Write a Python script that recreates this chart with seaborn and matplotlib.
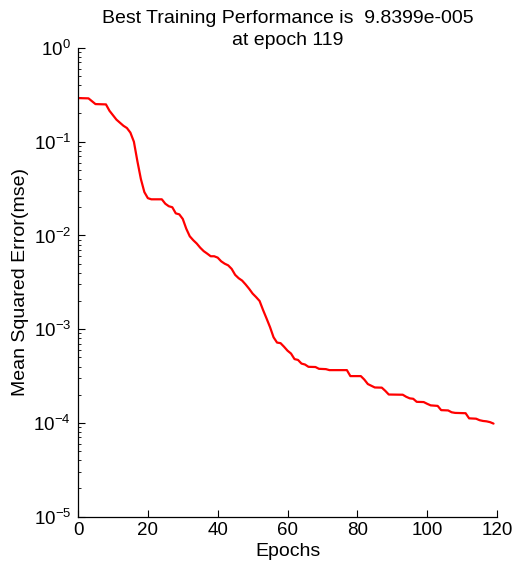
import matplotlib
matplotlib.use("Agg")
import matplotlib.pyplot as plt
import matplotlib.ticker as mticker
import numpy as np
import pandas as pd
import seaborn as sns

# Training record: epoch and mean squared error at each recorded step
epochs = [0, 3, 5, 8, 9, 11, 13, 14, 15, 16, 17, 18, 19, 20, 21, 24, 25, 26, 27,
          28, 29, 30, 31, 32, 33, 34, 35, 36, 37, 38, 39, 40, 41, 42, 43, 44, 45,
          46, 47, 48, 49, 50, 51, 52, 53, 54, 55, 56, 57, 58, 59, 60, 61, 62, 63,
          64, 65, 66, 68, 69, 71, 72, 77, 78, 81, 82, 83, 85, 87, 88, 89, 93, 94,
          95, 96, 97, 99, 100, 101, 103, 104, 106, 107, 108, 111, 112, 114, 115,
          116, 117, 118, 119]
mse = [0.292, 0.290, 0.252, 0.250, 0.214, 0.172, 0.148, 0.140, 0.125, 0.100,
       0.062, 0.040, 0.029, 0.0250, 0.0243, 0.0243, 0.0218, 0.0205, 0.0200,
       0.0172, 0.0168, 0.0150, 0.0118, 0.0098, 0.0089, 0.0082, 0.0074, 0.0068,
       0.0064, 0.0060, 0.0060, 0.0058, 0.0053, 0.0050, 0.0048, 0.0044, 0.0038,
       0.0035, 0.0033, 0.0030, 0.0027, 0.0024, 0.0022, 0.0020, 0.0016, 0.0013,
       0.00105, 0.00082, 0.00072, 0.00071, 0.00065, 0.00059, 0.00055, 0.00048,
       0.00047, 0.00043, 0.00042, 0.000397, 0.000395, 0.000378, 0.000375,
       0.000366, 0.000366, 0.000316, 0.000316, 0.00029, 0.00026, 0.000239,
       0.000238, 0.00022, 0.000201, 0.000200, 0.00019, 0.000183, 0.000181,
       0.000168, 0.000167, 0.00016, 0.000154, 0.000152, 0.000137, 0.000136,
       0.00013, 0.000128, 0.000127, 0.000112, 0.000111, 0.000107, 0.000105,
       0.000104, 0.000102, 9.8399e-5]

x_ticks = [0, 20, 40, 60, 80, 100, 120]
y_ticks = [1e-5, 1e-4, 1e-3, 1e-2, 1e-1, 1e0]

best_epoch = 119
best_perf = "9.8399e-005"
title_text = f"Best Training Performance is  {best_perf}\nat epoch {best_epoch}"

sns.set_style("white")
plt.rcParams["font.family"] = ["Liberation Sans", "DejaVu Sans"]
plt.rcParams["mathtext.fontset"] = "custom"
plt.rcParams["mathtext.rm"] = "Liberation Sans"
plt.rcParams["mathtext.it"] = "Liberation Sans:italic"
plt.rcParams["mathtext.bf"] = "Liberation Sans:bold"
plt.rcParams["axes.unicode_minus"] = False
plt.rcParams["text.color"] = "black"
plt.rcParams["axes.labelcolor"] = "black"

df = pd.DataFrame({"Epochs": epochs, "mse": mse})

fig = plt.figure(figsize=(5.15, 5.65), dpi=100)
ax = fig.add_axes([0.1515, 0.0855, 0.8136, 0.8296])

sns.lineplot(data=df, x="Epochs", y="mse", ax=ax, color="#ff0000", linewidth=1.6)

ax.set_yscale("log")
ax.set_xlim(0, 120)
ax.set_ylim(1e-5, 1e0)
ax.set_xticks(x_ticks)
ax.set_yticks(y_ticks)
ax.yaxis.set_minor_locator(mticker.LogLocator(base=10, subs=np.arange(2, 10)))
ax.yaxis.set_minor_formatter(mticker.NullFormatter())

for side in ("top", "right"):
    ax.spines[side].set_visible(False)
for side in ("left", "bottom"):
    ax.spines[side].set_color("black")
    ax.spines[side].set_linewidth(0.9)

ax.tick_params(axis="both", which="major", direction="in", length=5, width=0.8,
               color="black", labelsize=13.5, labelcolor="black",
               bottom=True, left=True)
ax.tick_params(axis="y", which="minor", direction="in", length=2.5, width=0.6,
               color="black", left=True)
ax.tick_params(axis="y", which="major", pad=5)
ax.tick_params(axis="x", which="major", pad=4)

ax.set_xlabel("Epochs", fontsize=14, labelpad=3, color="black")
ax.set_ylabel("Mean Squared Error(mse)", fontsize=14, labelpad=3.5, color="black")
ax.set_title(title_text, fontsize=14, pad=2, linespacing=1.4, color="black")

fig.savefig("out.png", dpi=100, facecolor="white")
